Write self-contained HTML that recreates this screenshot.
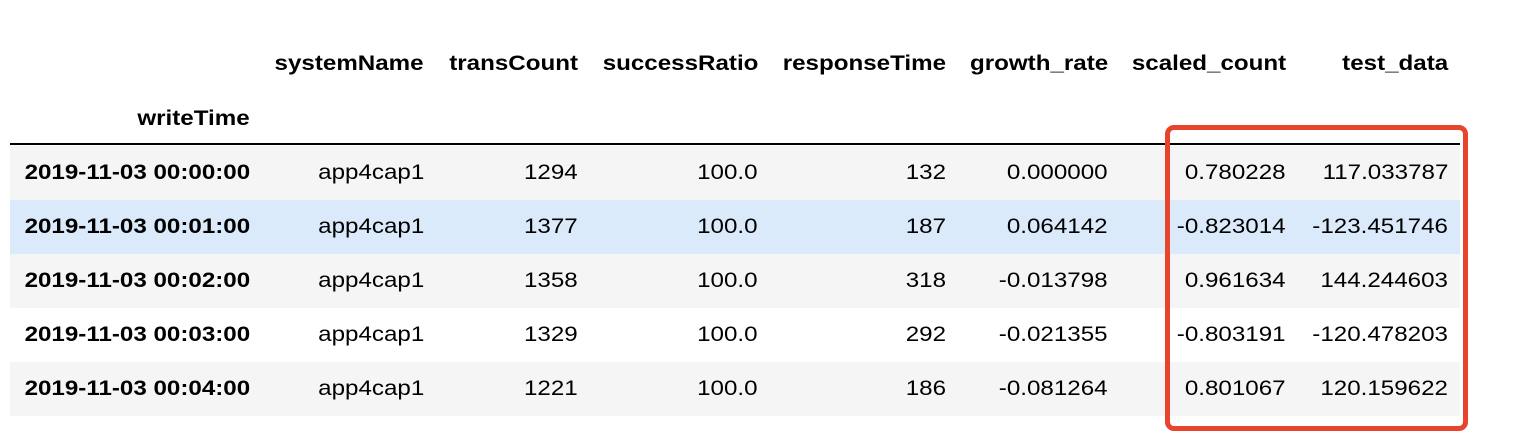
<!DOCTYPE html>
<html><head><meta charset="utf-8"><style>
body{margin:0;width:1528px;height:448px;background:#fff;font-family:"Liberation Sans",Arial,sans-serif;color:#000;position:relative;overflow:hidden}
.c{position:absolute;font-size:21px;line-height:24px;white-space:nowrap;text-align:right;transform:scaleX(1.15);transform-origin:right center}
.b{font-weight:bold}
.row{position:absolute;left:10px;width:1450px;height:54px}
</style></head><body>
<div id="tbl"></div>
<div style="position:absolute;left:10px;top:143px;width:1450px;height:2px;background:#000"></div>
<div style="position:absolute;left:1165px;top:125px;width:293px;height:296px;border:5px solid #e8432d;border-radius:9px"></div>
<script>
const columns=["systemName","transCount","successRatio","responseTime","growth_rate","scaled_count","test_data"];
const indexName="writeTime";
const times=["2019-11-03 00:00:00","2019-11-03 00:01:00","2019-11-03 00:02:00","2019-11-03 00:03:00","2019-11-03 00:04:00"];
const systemNames=["app4cap1","app4cap1","app4cap1","app4cap1","app4cap1"];
const transCount=["1294","1377","1358","1329","1221"];
const successRatio=["100.0","100.0","100.0","100.0","100.0"];
const responseTime=["132","187","318","292","186"];
const growthRate=["0.000000","0.064142","-0.013798","-0.021355","-0.081264"];
const scaledCount=["0.780228","-0.823014","0.961634","-0.803191","0.801067"];
const testData=["117.033787","-123.451746","144.244603","-120.478203","120.159622"];
const colRight=[424,578,758,946,1108,1286,1448];
const tbl=document.getElementById('tbl');
function cell(text,right,cy,bold,name){
  const d=document.createElement('div');
  d.className='c'+(bold?' b':'');
  d.textContent=text;
  d.style.right=(1528-right)+'px';
  d.style.top=(cy-12)+'px';
  
  
  tbl.appendChild(d);
}
const bgs=['#f5f5f5','#dbeafa','#f5f5f5','#fff','#f5f5f5'];
for(let i=0;i<times.length;i++){
  const r=document.createElement('div');
  r.className='row';
  r.style.top=(146+i*54)+'px';
  r.style.background=bgs[i];
  
  
  tbl.appendChild(r);
}
columns.forEach((c,j)=>cell(c,colRight[j],64,true,'column-header'));
cell(indexName,250,119,true,'index-header');
const data=[systemNames,transCount,successRatio,responseTime,growthRate,scaledCount,testData];
for(let i=0;i<times.length;i++){
  const cy=173+i*54;
  cell(times[i],250,cy,true,'row-index');
  data.forEach((arr,j)=>cell(arr[i],colRight[j],cy,false,'table-cell'));
}
</script>
</body></html>
